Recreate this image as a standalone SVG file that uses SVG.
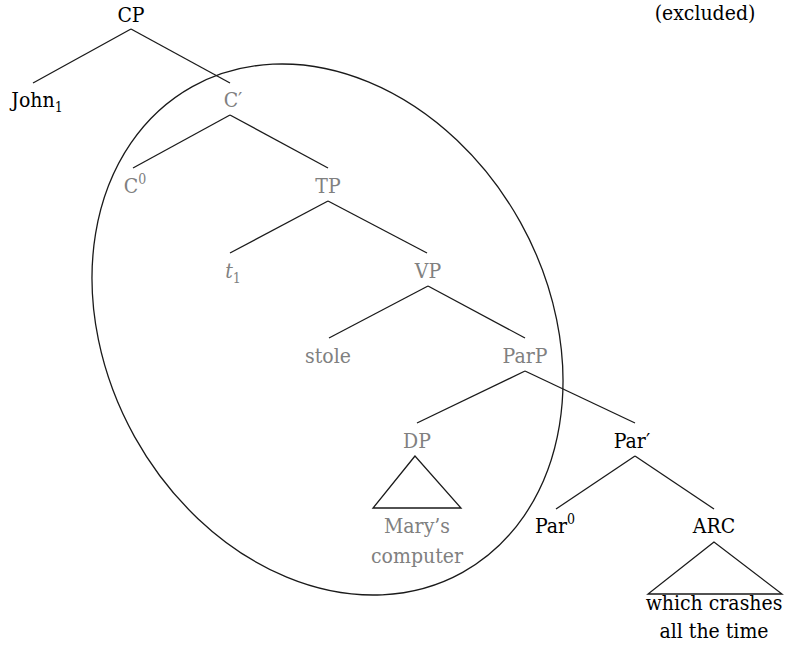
<svg xmlns="http://www.w3.org/2000/svg" width="790" height="651" viewBox="0 0 790 651">
<style>
.t text{font-family:'DejaVu Serif Condensed','DejaVu Serif',serif;font-stretch:condensed;font-size:21px;text-anchor:middle;fill:#000}
.t .g{fill:#808080}
.e{stroke:#1a1a1a;stroke-width:1.3;fill:none}
.t .sub{font-size:14px}
</style>
<rect width="790" height="651" fill="#fff"/>
<g id="connectors" class="e">
<line x1="131" y1="29" x2="33" y2="83"/>
<line x1="131" y1="29" x2="230" y2="83"/>
<line x1="230" y1="115" x2="133" y2="168"/>
<line x1="230" y1="115" x2="328" y2="168"/>
<line x1="328" y1="201" x2="230" y2="253"/>
<line x1="328" y1="201" x2="427" y2="253"/>
<line x1="428" y1="286" x2="329" y2="338"/>
<line x1="428" y1="286" x2="525" y2="338"/>
<line x1="525" y1="371" x2="417" y2="423"/>
<line x1="525" y1="371" x2="635" y2="423"/>
<line x1="635" y1="456" x2="556" y2="509"/>
<line x1="635" y1="456" x2="714" y2="509"/>
<polygon points="415,456 373,508 461,508"/>
<polygon points="714,542 648,594 782,594"/>
</g>
<g id="ellipse"><ellipse class="e" cx="327.5" cy="329.5" rx="220.7" ry="277.9" transform="rotate(-29.1 327.5 329.5)"/></g>
<g class="t">
<g id="CP"><text x="131" y="22">CP</text></g>
<g id="John"><text x="37" y="107">John<tspan class="sub" dy="5">1</tspan></text></g>
<g id="Cbar"><text class="g" x="233" y="107">C′</text></g>
<g id="C0"><text class="g" x="135" y="193">C<tspan class="sub" dy="-9">0</tspan></text></g>
<g id="TP"><text class="g" x="328" y="193">TP</text></g>
<g id="t1"><text class="g" x="233" y="278"><tspan font-style="italic">t</tspan><tspan class="sub" dy="5">1</tspan></text></g>
<g id="VP"><text class="g" x="428" y="278">VP</text></g>
<g id="stole"><text class="g" x="328" y="363">stole</text></g>
<g id="ParP"><text class="g" x="525" y="363">ParP</text></g>
<g id="DP"><text class="g" x="417" y="448">DP</text><text class="g" x="417" y="533">Mary’s</text><text class="g" x="417" y="563">computer</text></g>
<g id="Parbar"><text x="632" y="448">Par′</text></g>
<g id="Par0"><text x="555" y="533">Par<tspan class="sub" dy="-9">0</tspan></text></g>
<g id="ARC"><text x="714" y="533">ARC</text><text x="714" y="610">which crashes</text><text x="714" y="638">all the time</text></g>
<g id="excluded"><text x="705" y="20">(excluded)</text></g>
</g>
</svg>
